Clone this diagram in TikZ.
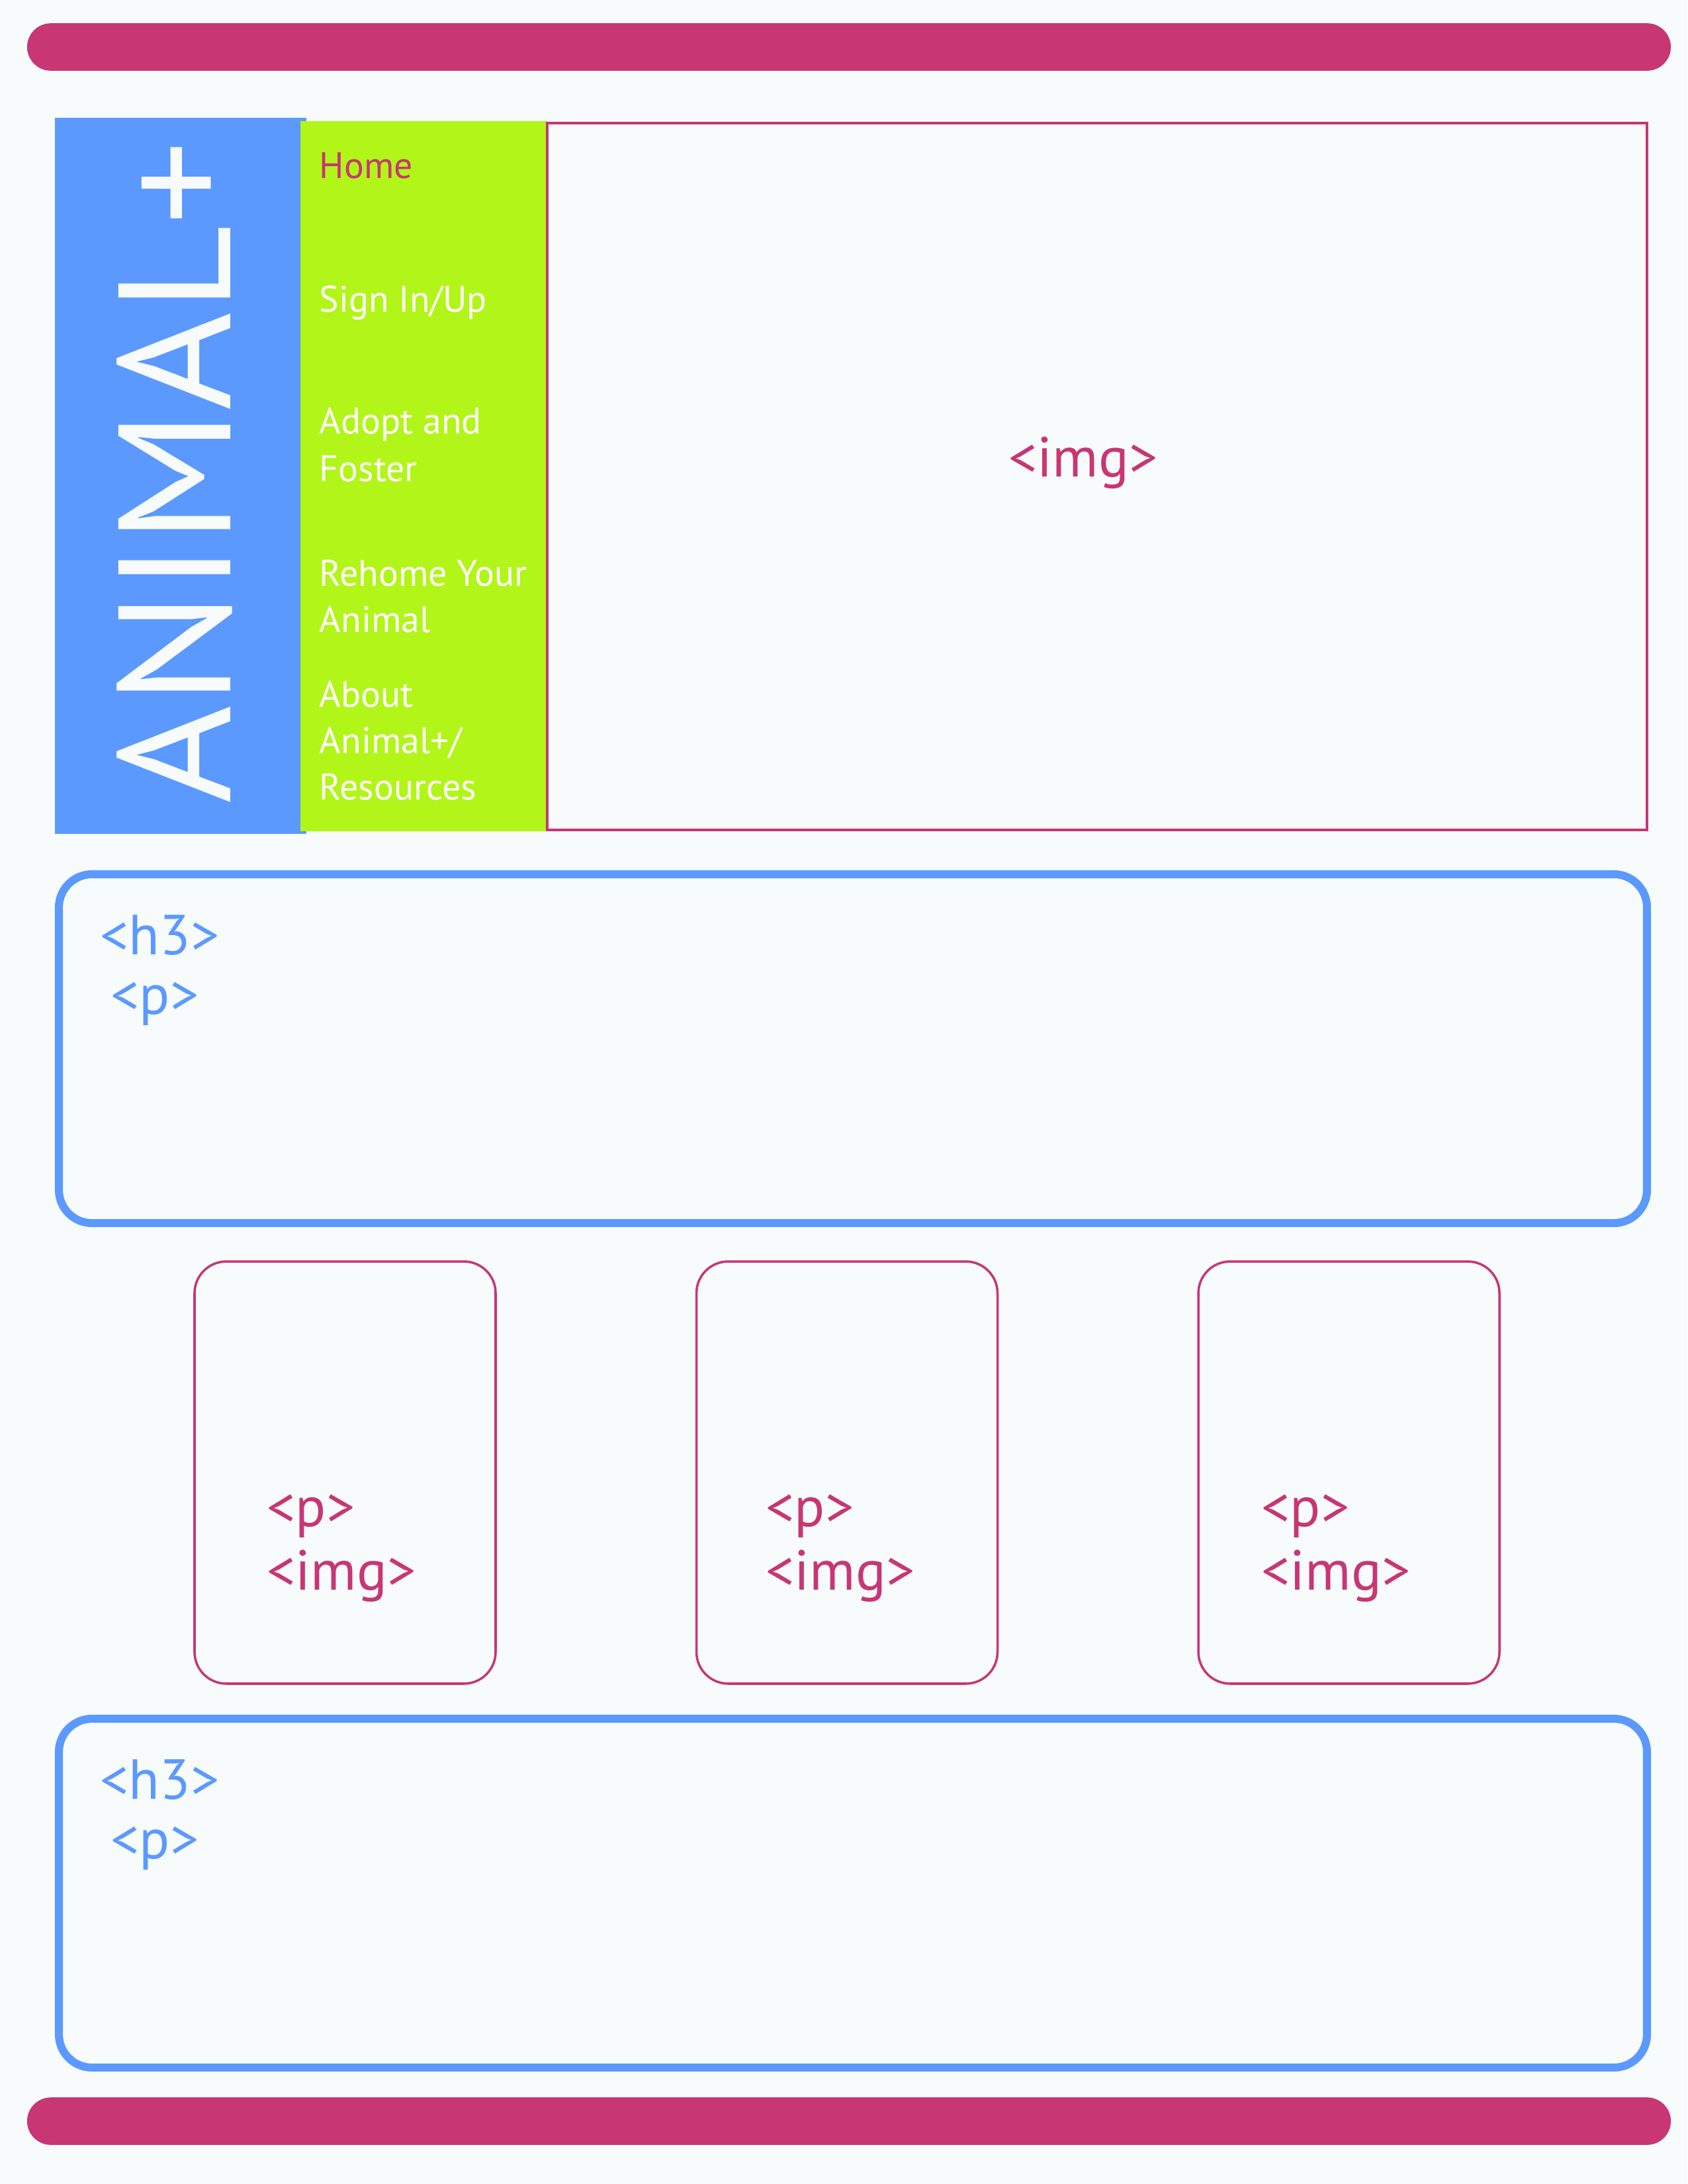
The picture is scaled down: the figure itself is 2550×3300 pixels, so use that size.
\documentclass[tikz,border=0pt]{standalone}
\usepackage{fontspec}
\setmainfont{PT Sans}
\usepackage{tikz}
\usetikzlibrary{shapes,positioning}
\definecolor{pagebg}{HTML}{F7FBFC}
\definecolor{animalpink}{HTML}{C83673}
\definecolor{animalblue}{HTML}{5B99FF}
\definecolor{animalgreen}{HTML}{B2F518}
\tikzstyle{bar} = [rectangle, fill=animalpink, rounded corners=8.6pt,
    minimum width=596.2pt, minimum height=17.2pt, inner sep=0pt]
\tikzstyle{section} = [rectangle, draw=animalblue, line width=2.9pt,
    rounded corners=12pt, minimum width=576pt, minimum height=126.5pt]
\tikzstyle{card} = [rectangle, draw=animalpink, line width=0.85pt,
    rounded corners=11.5pt, minimum width=109.2pt, minimum height=153.1pt]
\tikzstyle{navlink} = [anchor=base west, inner sep=0pt, text=white,
    font=\fontsize{13.4}{16}\selectfont]
\tikzstyle{tag} = [anchor=base west, inner sep=0pt,
    font=\fontsize{20.5}{24}\selectfont]

\begin{document}
\begin{tikzpicture}[x=0.24pt, y=-0.24pt]
    % Page
    \fill[pagebg] (0,0) rectangle (2550,3300);
    \useasboundingbox (0,0) rectangle (2550,3300);

    % Bars
    \node [bar] (topbar) at (1283,71) {};
    \node [bar] (bottombar) at (1283,3205) {};

    % Header
    \node [rectangle, fill=animalblue, inner sep=0pt, minimum width=91.2pt,
        minimum height=259.7pt] (logo) at (273,719) {};
    \node [rectangle, fill=animalgreen, inner sep=0pt, minimum width=89.5pt,
        minimum height=257.5pt] (nav) at (640.5,719.5) {};
    \node [rectangle, draw=animalpink, line width=0.75pt, inner sep=0pt,
        minimum width=398.9pt, minimum height=256.3pt] (banner) at (1658,720) {};
    \node [anchor=base west, rotate=90, inner sep=0pt, text=pagebg,
        font=\fontsize{58}{60}\selectfont\addfontfeatures{FakeStretch=1.05}]
        (brand) at (348,1215) {ANIMAL+};
    \node [tag, text=animalpink] (bannerimg) at (1524,720) {<img>};

    % Links
    \node [navlink, text=animalpink] (home) at (482,269) {Home};
    \node [navlink] (signin) at (482,471) {Sign In/Up};
    \node [navlink] (adopt) at (482,655) {Adopt and};
    \node [navlink] (foster) at (482,727) {Foster};
    \node [navlink] (rehome) at (482,885) {Rehome Your};
    \node [navlink] (animal) at (482,955) {Animal};
    \node [navlink] (about) at (482,1068) {About};
    \node [navlink] (aboutanimal) at (482,1138) {Animal+/};
    \node [navlink] (resources) at (482,1208) {Resources};

    % Sections
    \node [section] (intro) at (1289,1584.5) {};
    \node [tag, text=animalblue] (introhead) at (151,1442) {<h3>};
    \node [tag, text=animalblue] (introtext) at (167,1532) {<p>};

    \node [section] (outro) at (1289,2860.5) {};
    \node [tag, text=animalblue] (outrohead) at (151,2718) {<h3>};
    \node [tag, text=animalblue] (outrotext) at (167,2808) {<p>};

    % Cards
    \node [card] (cardA) at (521.5,2225) {};
    \node [card, right=72pt of cardA] (cardB) {};
    \node [card, right=72pt of cardB] (cardC) {};

    \node [tag, text=animalpink] (cardAtext) at (403,2306) {<p>};
    \node [tag, text=animalpink] (cardAimg) at (403,2402) {<img>};
    \node [tag, text=animalpink] (cardBtext) at (1157,2306) {<p>};
    \node [tag, text=animalpink] (cardBimg) at (1157,2402) {<img>};
    \node [tag, text=animalpink] (cardCtext) at (1906,2306) {<p>};
    \node [tag, text=animalpink] (cardCimg) at (1906,2402) {<img>};
\end{tikzpicture}
\end{document}
